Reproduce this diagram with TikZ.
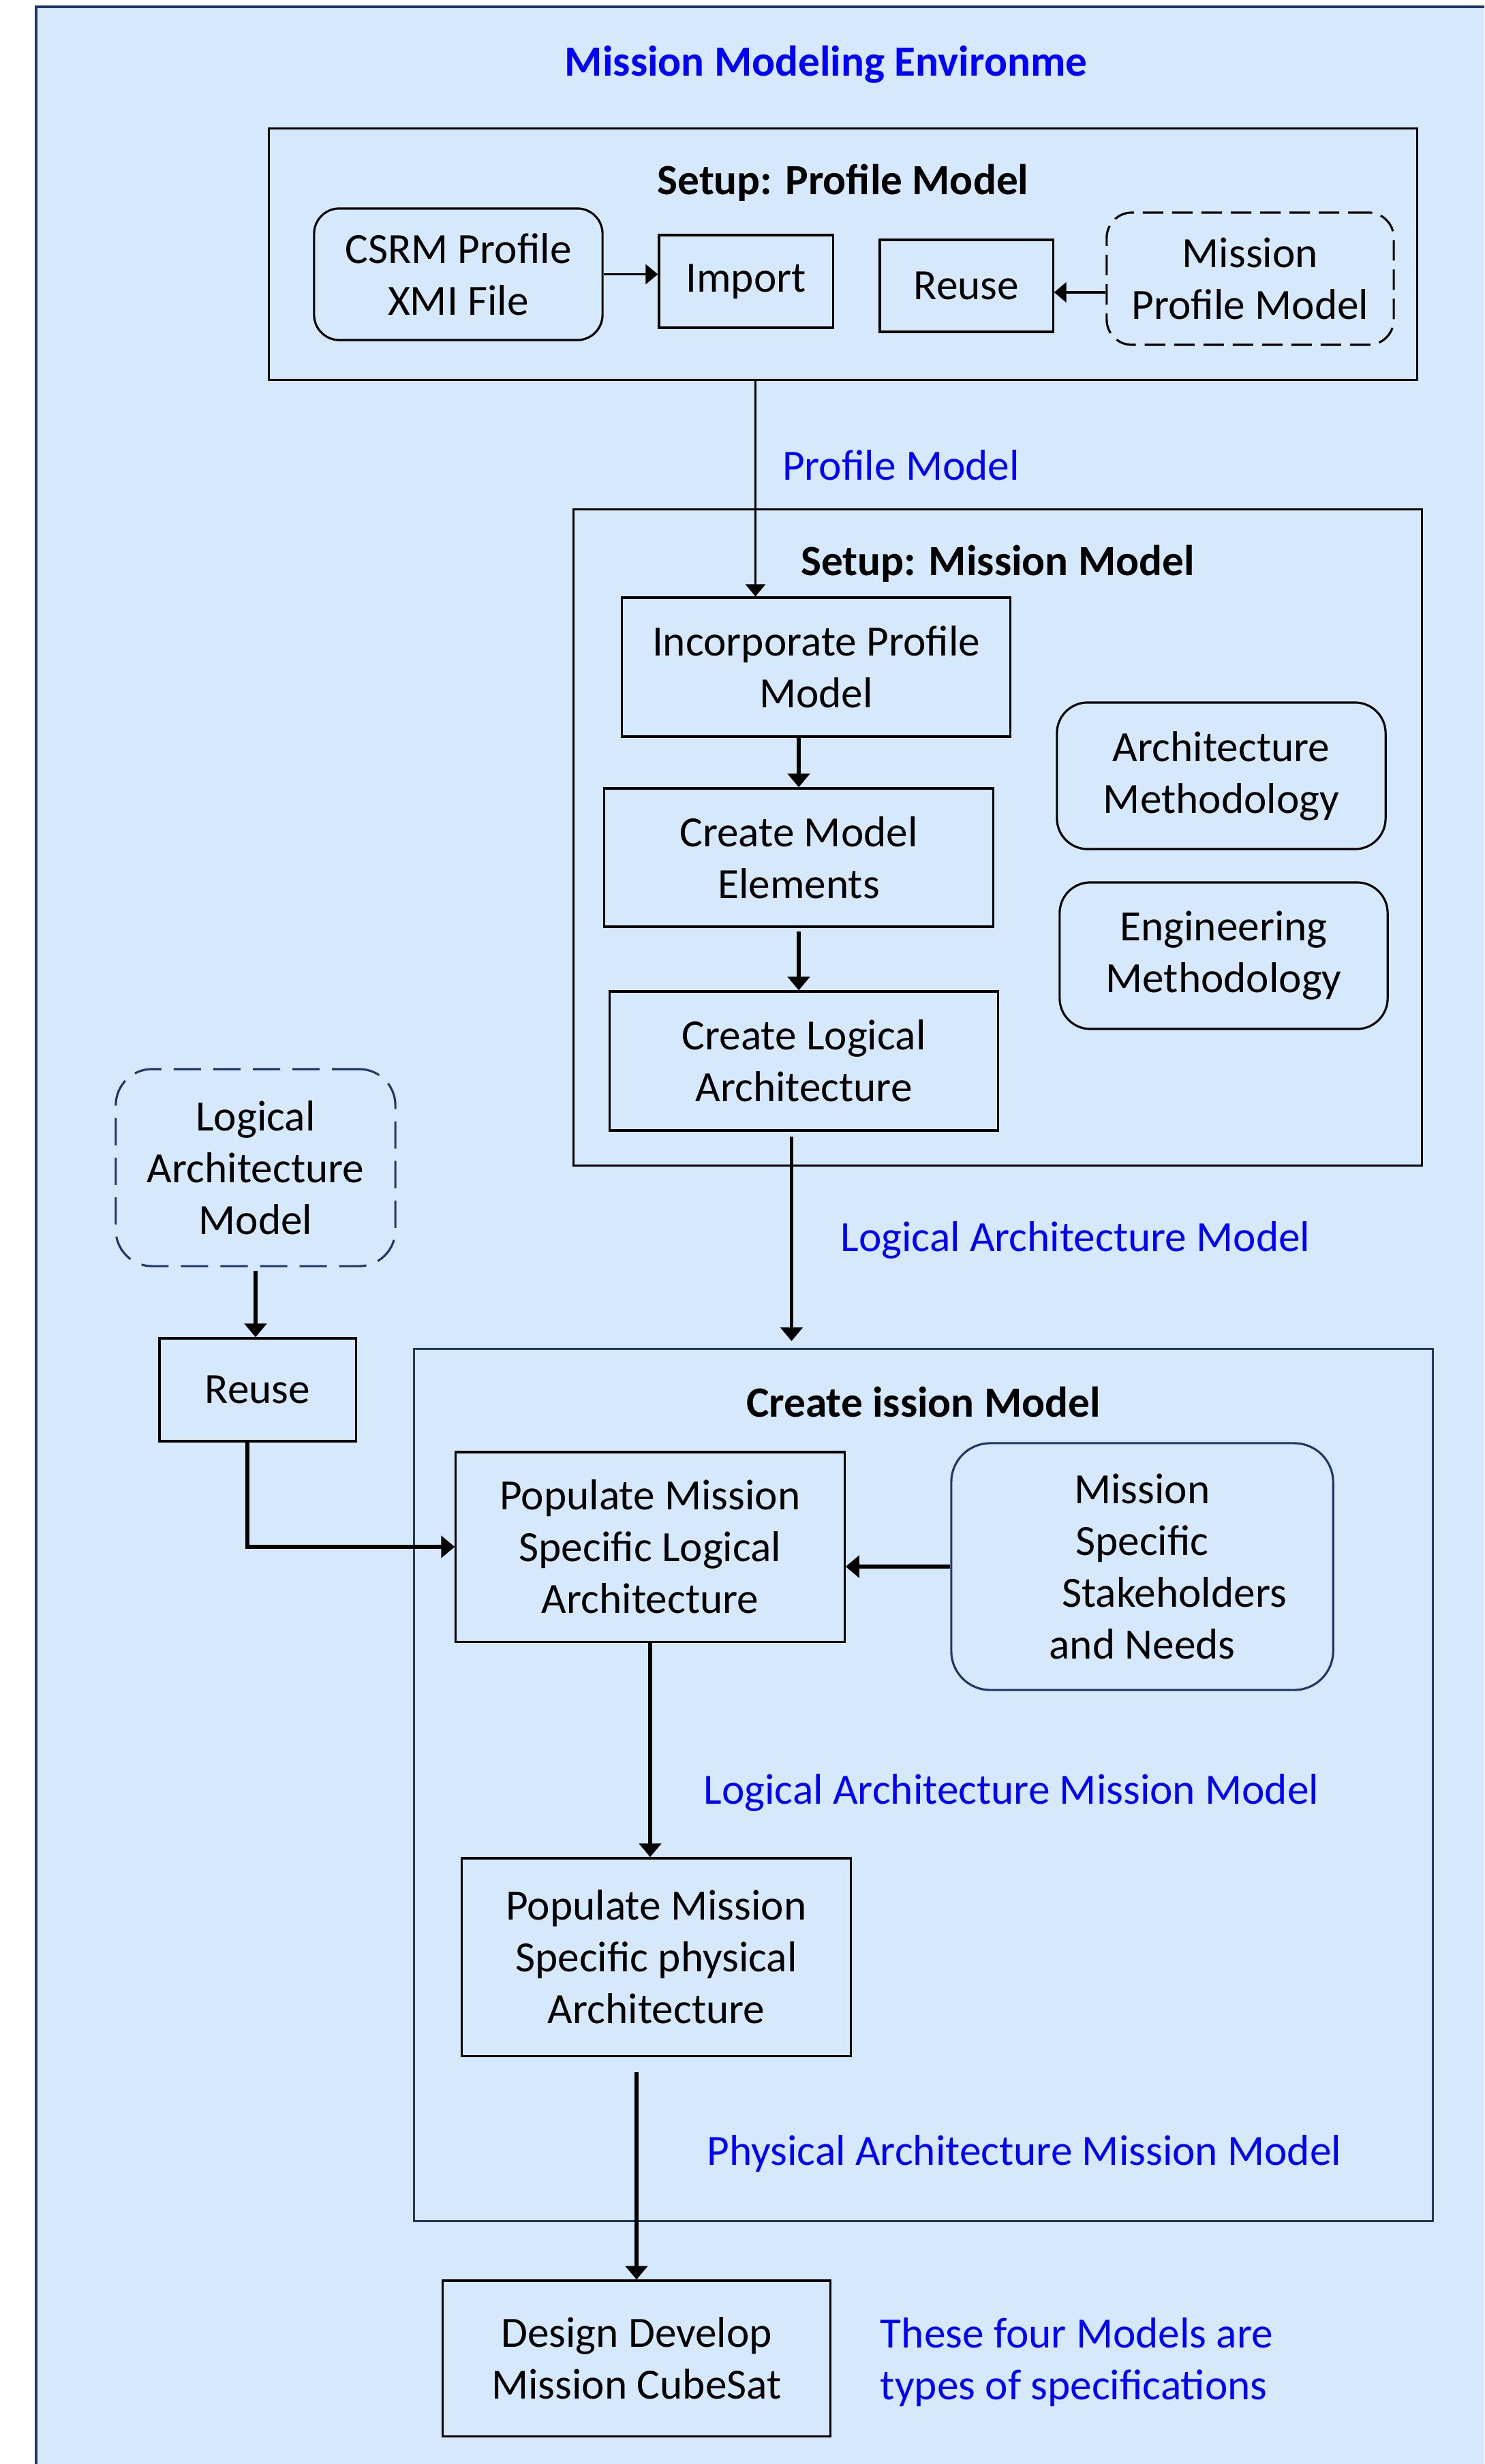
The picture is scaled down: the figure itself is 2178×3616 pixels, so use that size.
\documentclass[tikz,border=0pt]{standalone}
\usepackage{fontspec}
\setmainfont{Carlito}
\usetikzlibrary{arrows.meta, positioning}
\definecolor{paleblue}{RGB}{214,232,252}
\definecolor{navy}{RGB}{31,56,100}
\newcommand\diagfont{\fontsize{18}{21.6}\selectfont}
\tikzset{
  every node/.style={font=\diagfont},
  box/.style={draw=black, line width=0.9pt, align=center, inner sep=0pt}, % plain process box
  roundbox/.style={box, rounded corners=0.45cm},
  dashbox/.style={roundbox, dashed},
  frame/.style={draw=black, line width=0.9pt, inner sep=0pt}, % group frame
  heading/.style={font=\diagfont\bfseries},
  bluelabel/.style={text=blue, align=left},
  arr/.style={-{Triangle[length=0.2cm, width=0.32cm]}, line width=1.7pt},
  arrthin/.style={-{Triangle[length=0.18cm, width=0.29cm]}, line width=1pt},
}

\begin{document}
\begin{tikzpicture}[x=0.01cm, y=-0.01cm]
\useasboundingbox (0,0) rectangle (2178,3616);
\fill[white] (0,0) rectangle (2178,3616);
\begin{scope}
\clip (0,0) rectangle (2178,3616);
\draw[navy, line width=1pt, fill=paleblue] (53,10) rectangle (2240,3680);
\end{scope}

\node[heading, text=blue] at (1212,95) (envtitle) {Mission Modeling Environme};

% setup: profile model
\node[frame, minimum width=16.84cm, minimum height=3.68cm] at (1237,373) (profbox) {};
\node[heading] at (1237,268) (proftitle) {Setup: Profile Model};
\node[roundbox, rounded corners=0.37cm, minimum width=4.23cm, minimum height=1.93cm] at (672.5,402.5) (csrm) {CSRM Profile\\XMI File};
\node[box, minimum width=2.55cm, minimum height=1.36cm] at (1094.5,413) (import) {Import};
\node[box, minimum width=2.54cm, minimum height=1.35cm] at (1418,419.5) (reuseprof) {Reuse};
\node[dashbox, rounded corners=0.37cm, dash pattern=on 0.3cm off 0.13cm, minimum width=4.21cm, minimum height=1.94cm] at (1834.5,409) (missprof) {Mission\\Profile Model};
\draw[arrthin] (csrm.east) -- (csrm.east -| import.west);
\draw[arrthin, line width=1.2pt] ([yshift=-0.2cm]missprof.west) -- ([yshift=-0.2cm]missprof.west -| reuseprof.east);

\node[bluelabel] at (1322,683) (lblprof) {Profile Model};

% setup: mission model
\node[frame, minimum width=12.44cm, minimum height=9.62cm] at (1464,1229) (missbox) {};
\node[heading] at (1464,827) (misstitle) {Setup: Mission Model};
\node[box, minimum width=5.69cm, minimum height=2.04cm] at (1197.5,979) (incorp) {Incorporate Profile\\Model};
\node[box, minimum width=5.70cm, minimum height=2.03cm] at (1172,1258.5) (elements) {Create Model\\Elements};
\node[box, minimum width=5.69cm, minimum height=2.04cm] at (1179.5,1557) (logarch) {Create Logical\\Architecture};
\node[roundbox, minimum width=4.82cm, minimum height=2.15cm] at (1792,1138.5) (archmeth) {Architecture\\Methodology};
\node[roundbox, minimum width=4.81cm, minimum height=2.15cm] at (1795.5,1402.5) (engmeth) {Engineering\\Methodology};
\draw[arrthin] ([xshift=-0.89cm]incorp.north |- profbox.south) -- ([xshift=-0.89cm]incorp.north);
\draw[arr] (incorp.south -| elements) -- (elements.north);
\draw[arr] ([yshift=-0.05cm]elements.south) -- (elements.south |- logarch.north);

\node[bluelabel] at (1578,1820) (lbllog) {Logical Architecture Model};

% reuse of the logical architecture
\node[dashbox, draw=navy, rounded corners=0.53cm, dash pattern=on 0.4cm off 0.18cm, minimum width=4.10cm, minimum height=2.89cm] at (375,1713.5) (logmodel) {Logical\\Architecture\\Model};
\node[box, minimum width=2.88cm, minimum height=1.51cm] at (378,2039.5) (reuselog) {Reuse};
\draw[arr] ([yshift=-0.05cm]logmodel.south) -- (logmodel.south |- reuselog.north);

% create mission model
\node[frame, draw=navy, minimum width=14.94cm, minimum height=12.79cm] at (1355,2619.5) (createbox) {};
\node[heading] at (1355,2058) (createtitle) {Create ission Model};
\coordinate (logdrop) at ([xshift=-0.18cm]logarch.south);
\draw[arr] ([yshift=-0.07cm]logdrop) -- ([yshift=0.1cm]logdrop |- createbox.north);
\node[box, minimum width=5.70cm, minimum height=2.78cm] at (954,2270) (poplog) {Populate Mission\\Specific Logical\\Architecture};
\node[roundbox, draw=navy, rounded corners=0.57cm, minimum width=5.60cm, minimum height=3.62cm] at (1676,2299) (stake) {Mission\\Specific\\\hspace*{0.94cm}Stakeholders\\and Needs};
\node[box, minimum width=5.70cm, minimum height=2.90cm] at (963,2872) (popphys) {Populate Mission\\Specific physical\\Architecture};
\draw[arr] ([xshift=-0.15cm]reuselog.south) |- (poplog.west);
\draw[arr] (stake.west) -- (stake.west -| poplog.east);
\draw[arr] (poplog.south) -- (poplog.south |- popphys.north);

\node[bluelabel] at (1484,2631) (lbllogmiss) {Logical Architecture Mission Model};
\node[bluelabel] at (1503,3161) (lblphys) {Physical Architecture Mission Model};

% design
\node[box, minimum width=5.68cm, minimum height=2.28cm] at (934,3461) (design) {Design Develop\\Mission CubeSat};
\draw[arr] ([yshift=-0.22cm]popphys.south -| design.north) -- (design.north);
\node[bluelabel] at (1580,3467) (lblnote) {These four Models are\\types of specifications};

\end{tikzpicture}
\end{document}
